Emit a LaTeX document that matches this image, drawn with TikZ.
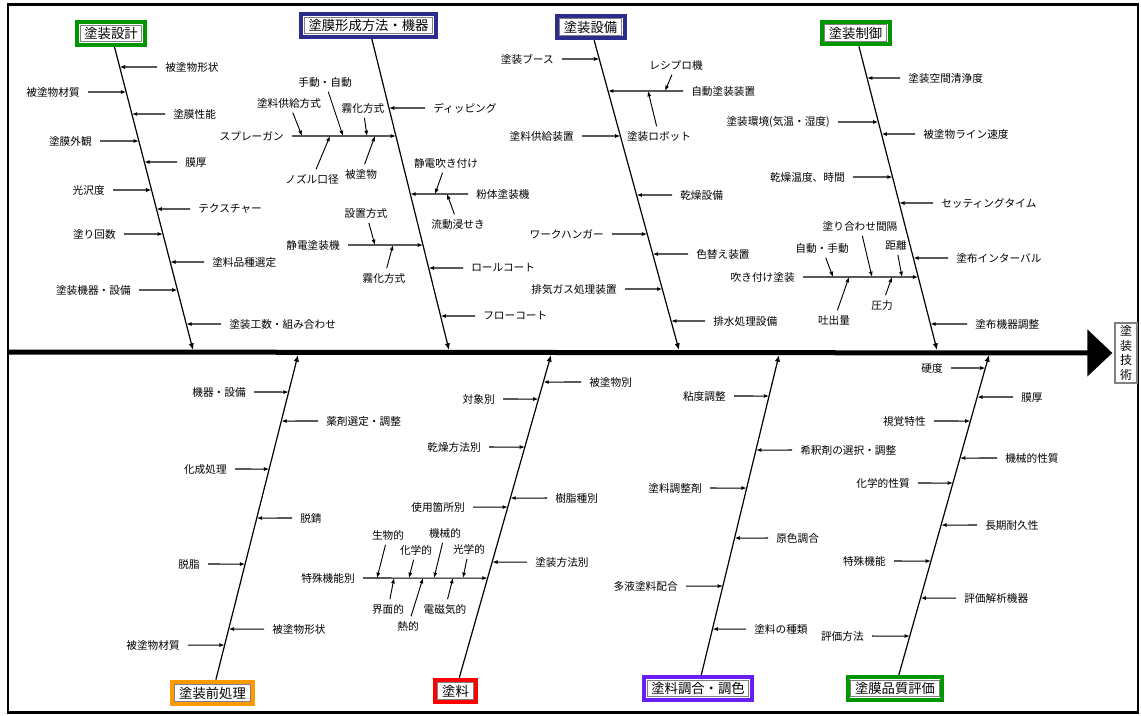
\documentclass[tikz,border=0pt]{standalone}
\usepackage{fontspec}
\newfontfamily\jp{Noto Sans CJK JP}
\usetikzlibrary{arrows.meta}
\definecolor{cgreen}{RGB}{0,150,0}
\definecolor{cnavy}{RGB}{44,44,140}
\definecolor{corange}{RGB}{255,153,0}
\definecolor{cred}{RGB}{255,0,0}
\definecolor{cpurple}{RGB}{105,30,245}
\tikzset{
  x=0.75pt, y=-0.75pt,
  lbl/.style={font=\jp\fontsize{8}{9}\selectfont, inner xsep=6pt, inner ysep=1pt},
  slbl/.style={font=\jp\fontsize{8}{9}\selectfont, inner sep=1.5pt},
  rib/.style={draw=black, line width=0.8pt, -{Latex[length=4pt,width=3pt]}},
  srib/.style={draw=black, line width=0.7pt, shorten <=2pt, -{Latex[length=4pt,width=3pt]}},
  bone/.style={draw=black, line width=0.9pt, -{Latex[length=5pt,width=4pt]}},
  cat/.style={draw=#1, line width=3pt, fill=white, font=\jp\fontsize{10}{12}\selectfont,
    inner xsep=5.5pt, inner ysep=0pt, minimum height=17pt,
    path picture={\draw[gray, line width=0.8pt]
      ([shift={(2.3pt,-2.3pt)}]path picture bounding box.north west) rectangle
      ([shift={(-2.3pt,2.3pt)}]path picture bounding box.south east);}},
  eff/.style={draw=gray, line width=1pt, fill=white, font=\jp\fontsize{9}{11}\selectfont,
    align=center, inner sep=0pt, minimum width=16.5pt, minimum height=45pt},
}
\newcommand\myrib[7]{%
  \coordinate (#1p) at (intersection of #6--#7 and 0,#4--1,#4);
  \node[lbl,anchor=#2] (#1) at (#3,#4) {#5};
  \draw[rib] (#1) -- (#1p);}
\newcommand\mysub[6]{%
  \node[slbl] (#1) at (#2,#3) {#6};
  \coordinate (#1p) at (#4,#5);
  \draw[srib] (#1) -- (#1p);}
\begin{document}
\begin{tikzpicture}
\useasboundingbox (0,0) rectangle (1141,715);
\draw[line width=1.6pt] (8,4.5) rectangle (1138,712.5);

% effect and spine
\node[eff] (eff) at (1126,353) {塗\\装\\技\\術};
\coordinate (sp0) at (8,352);
\draw[line width=3.75pt, shorten >=1.5pt, -{Triangle[length=18.75pt,width=34.5pt]}] (sp0) -- (eff);

% spine points
\coordinate (s1) at (193,350);
\coordinate (s2) at (449,350);
\coordinate (s3) at (679,350);
\coordinate (s4) at (937,350);
\coordinate (s5) at (298,355);
\coordinate (s6) at (551,355);
\coordinate (s7) at (779,355);
\coordinate (s8) at (989,355);

% category boxes
\node[cat=cgreen] (k1) at (111,33.5) {塗装設計};
\node[cat=cnavy] (k2) at (368.5,25.5) {塗膜形成方法・機器};
\node[cat=cnavy] (k3) at (590.5,27) {塗装設備};
\node[cat=cgreen] (k4) at (855.5,33) {塗装制御};
\node[cat=corange] (k5) at (212.5,693) {塗装前処理};
\node[cat=cred] (k6) at (455.5,691) {塗料};
\node[cat=cpurple] (k7) at (698,688.5) {塗料調合・調色};
\node[cat=cgreen] (k8) at (895,688.5) {塗膜品質評価};

\foreach \i in {1,...,8} {\draw[bone] (k\i) -- (s\i);}

% branch 1
\myrib{a1}{west}{157}{67}{被塗物形状}{k1.center}{s1}
\myrib{a2}{east}{88}{92}{被塗物材質}{k1.center}{s1}
\myrib{a3}{west}{165}{114}{塗膜性能}{k1.center}{s1}
\myrib{a4}{east}{100}{141}{塗膜外観}{k1.center}{s1}
\myrib{a5}{west}{177}{162}{膜厚}{k1.center}{s1}
\myrib{a6}{east}{113}{190}{光沢度}{k1.center}{s1}
\myrib{a7}{west}{190}{209}{テクスチャー}{k1.center}{s1}
\myrib{a8}{east}{124}{234}{塗り回数}{k1.center}{s1}
\myrib{a9}{west}{204}{262}{塗料品種選定}{k1.center}{s1}
\myrib{a10}{east}{139}{290}{塗装機器・設備}{k1.center}{s1}
\myrib{a11}{west}{221}{324}{塗装工数・組み合わせ}{k1.center}{s1}

% branch 2
\myrib{b1}{west}{425}{108}{ディッピング}{k2.center}{s2}
\myrib{b2}{east}{292}{136}{スプレーガン}{k2.center}{s2}
\mysub{b2a}{289}{103}{302}{136}{塗料供給方式}
\mysub{b2b}{325}{82}{343}{136}{手動・自動}
\mysub{b2c}{363}{108}{367}{136}{霧化方式}
\mysub{b2d}{312}{179}{330}{136}{ノズル口径}
\mysub{b2e}{361}{174}{375}{136}{被塗物}
\myrib{b3}{west}{468}{194}{粉体塗装機}{k2.center}{s2}
\mysub{b3a}{446}{163}{435}{194}{静電吹き付け}
\mysub{b3b}{458}{224}{447}{194}{流動浸せき}
\myrib{b4}{east}{348}{245}{静電塗装機}{k2.center}{s2}
\mysub{b4a}{366}{213}{375}{245}{設置方式}
\mysub{b4b}{384}{278}{393}{245}{霧化方式}
\myrib{b5}{west}{463}{268}{ロールコート}{k2.center}{s2}
\myrib{b6}{west}{475}{316}{フローコート}{k2.center}{s2}

% branch 3
\myrib{c1}{east}{562}{59}{塗装ブース}{k3.center}{s3}
\myrib{c2}{west}{683}{91}{自動塗装装置}{k3.center}{s3}
\mysub{c2a}{676}{65}{665}{91}{レシプロ機}
\mysub{c2b}{659}{136}{648}{91}{塗装ロボット}
\myrib{c3}{east}{582}{136}{塗料供給装置}{k3.center}{s3}
\myrib{c4}{west}{672}{195}{乾燥設備}{k3.center}{s3}
\myrib{c5}{east}{612}{234}{ワークハンガー}{k3.center}{s3}
\myrib{c6}{west}{688}{254}{色替え装置}{k3.center}{s3}
\myrib{c7}{east}{625}{289}{排気ガス処理装置}{k3.center}{s3}
\myrib{c8}{west}{705}{321}{排水処理設備}{k3.center}{s3}

% branch 4
\myrib{d1}{west}{900}{78}{塗装空間清浄度}{k4.center}{s4}
\myrib{d2}{east}{838}{122}{塗装環境(気温・湿度)}{k4.center}{s4}
\myrib{d3}{west}{915}{134}{被塗物ライン速度}{k4.center}{s4}
\myrib{d4}{east}{853}{177}{乾燥温度、時間}{k4.center}{s4}
\myrib{d5}{west}{933}{203}{セッティングタイム}{k4.center}{s4}
\myrib{d6}{west}{948}{258}{塗布インターバル}{k4.center}{s4}
\myrib{d7}{east}{803}{277}{吹き付け塗装}{k4.center}{s4}
\mysub{d7a}{822}{248}{833}{277}{自動・手動}
\mysub{d7b}{860}{226}{872}{277}{塗り合わせ間隔}
\mysub{d7c}{896}{245}{902}{277}{距離}
\mysub{d7d}{834}{320}{849}{277}{吐出量}
\mysub{d7e}{882}{305}{892}{277}{圧力}
\myrib{d8}{west}{967}{324}{塗布機器調整}{k4.center}{s4}

% branch 5
\myrib{e1}{east}{254}{392}{機器・設備}{k5.center}{s5}
\myrib{e2}{west}{318}{421}{薬剤選定・調整}{k5.center}{s5}
\myrib{e3}{east}{235}{469}{化成処理}{k5.center}{s5}
\myrib{e4}{west}{292}{518}{脱錆}{k5.center}{s5}
\myrib{e5}{east}{208}{564}{脱脂}{k5.center}{s5}
\myrib{e6}{west}{264}{629}{被塗物形状}{k5.center}{s5}
\myrib{e7}{east}{188}{645}{被塗物材質}{k5.center}{s5}

% branch 6
\myrib{f1}{west}{581}{382}{被塗物別}{k6.center}{s6}
\myrib{f2}{east}{503}{399}{対象別}{k6.center}{s6}
\myrib{f3}{east}{489}{447}{乾燥方法別}{k6.center}{s6}
\myrib{f4}{west}{547}{498}{樹脂種別}{k6.center}{s6}
\myrib{f5}{east}{473}{507}{使用箇所別}{k6.center}{s6}
\myrib{f6}{west}{527}{562}{塗装方法別}{k6.center}{s6}
\myrib{f7}{east}{363}{578}{特殊機能別}{k6.center}{s6}
\mysub{f7a}{388}{535}{377}{578}{生物的}
\mysub{f7b}{416}{550}{409}{578}{化学的}
\mysub{f7c}{445}{533}{434}{578}{機械的}
\mysub{f7d}{469}{549}{463}{578}{光学的}
\mysub{f7e}{388}{609}{394}{578}{界面的}
\mysub{f7f}{408}{626}{423}{578}{熱的}
\mysub{f7g}{445}{609}{453}{578}{電磁気的}

% branch 7
\myrib{g1}{east}{734}{396}{粘度調整}{k7.center}{s7}
\myrib{g2}{west}{792}{450}{希釈剤の選択・調整}{k7.center}{s7}
\myrib{g3}{east}{710}{488}{塗料調整剤}{k7.center}{s7}
\myrib{g4}{west}{768}{538}{原色調合}{k7.center}{s7}
\myrib{g5}{east}{686}{586}{多液塗料配合}{k7.center}{s7}
\myrib{g6}{west}{746}{629}{塗料の種類}{k7.center}{s7}

% branch 8
\myrib{h1}{east}{951}{368}{硬度}{k8.center}{s8}
\myrib{h2}{west}{1013}{397}{膜厚}{k8.center}{s8}
\myrib{h3}{east}{934}{421}{視覚特性}{k8.center}{s8}
\myrib{h4}{west}{997}{458}{機械的性質}{k8.center}{s8}
\myrib{h5}{east}{918}{483}{化学的性質}{k8.center}{s8}
\myrib{h6}{west}{977}{525}{長期耐久性}{k8.center}{s8}
\myrib{h7}{east}{894}{561}{特殊機能}{k8.center}{s8}
\myrib{h8}{west}{956}{598}{評価解析機器}{k8.center}{s8}
\myrib{h9}{east}{872}{636}{評価方法}{k8.center}{s8}
\end{tikzpicture}
\end{document}
